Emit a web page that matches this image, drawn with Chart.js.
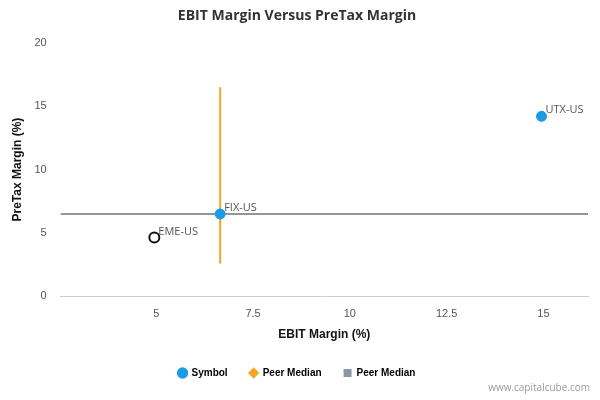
<!DOCTYPE html>
<html>
<head>
<meta charset="utf-8">
<script src="https://cdn.jsdelivr.net/npm/chart.js@4"></script>
<style>
body { margin: 0; background: #fff; font-family: "Open Sans", "DejaVu Sans", sans-serif; }
#wrap { position: relative; width: 600px; height: 400px; }
#credit { position: absolute; right: 10px; bottom: 6px; font-size: 10px; color: #999; }
</style>
</head>
<body>
<div id="wrap">
<canvas id="chart" width="600" height="400"></canvas>
<div id="credit">www.capitalcube.com</div>
</div>
<script>
const symbolNames = ['UTX-US', 'FIX-US'];
const symbolX = [14.95, 6.65];
const symbolY = [14.2, 6.5];
const otherName = 'EME-US';
const otherX = [4.95];
const otherY = [4.65];
const ebitMedian = 6.65;
const ebitMedianRange = [2.6, 16.5];
const pretaxMedian = 6.5;
const xRange = [2.53, 16.15];
const xTicks = [5, 7.5, 10, 12.5, 15];
const yTicks = [0, 5, 10, 15, 20];

const labels = {
  id: 'pointLabels',
  afterDatasetsDraw(chart) {
    const c = chart.ctx;
    c.save();
    c.font = '11px "Open Sans", sans-serif';
    c.fillStyle = '#555';
    const xs = chart.scales.x, ys = chart.scales.y;
    symbolNames.forEach((n, i) => {
      c.fillText(n, xs.getPixelForValue(symbolX[i]) + 4, ys.getPixelForValue(symbolY[i]) - 6);
    });
    c.fillText(otherName, xs.getPixelForValue(otherX[0]) + 4, ys.getPixelForValue(otherY[0]) - 6);
    c.restore();
  }
};

new Chart(document.getElementById('chart'), {
  type: 'scatter',
  data: {
    datasets: [
      {
        label: 'Symbol',
        data: symbolX.map((x, i) => ({ x, y: symbolY[i] })),
        backgroundColor: '#1a9be6', borderColor: '#1a9be6',
        pointRadius: 5, order: 0
      },
      {
        label: 'Peer Median',
        type: 'line',
        data: ebitMedianRange.map(y => ({ x: ebitMedian, y })),
        borderColor: '#f5a623', backgroundColor: '#f5a623',
        borderWidth: 2, pointRadius: 0, pointStyle: 'rectRot', order: 2
      },
      {
        label: 'Peer Median',
        type: 'line',
        data: xRange.map(x => ({ x, y: pretaxMedian })),
        borderColor: '#8f96a3', backgroundColor: '#8f96a3',
        borderWidth: 2, pointRadius: 0, pointStyle: 'rect', order: 3
      },
      {
        label: 'Other',
        data: otherX.map((x, i) => ({ x, y: otherY[i] })),
        backgroundColor: '#fff', borderColor: '#111',
        borderWidth: 2, pointRadius: 5, order: 1
      }
    ]
  },
  options: {
    responsive: false,
    animation: false,
    layout: { padding: { left: 6, right: 12, bottom: 12 } },
    plugins: {
      title: {
        display: true, text: 'EBIT Margin Versus PreTax Margin',
        color: '#333', font: { size: 14, weight: 'bold', family: '"Open Sans", sans-serif' },
        padding: { top: 8, bottom: 18 }
      },
      legend: {
        position: 'bottom',
        labels: {
          usePointStyle: true,
          boxWidth: 8, boxHeight: 8,
          color: '#333',
          font: { size: 10, weight: 'bold' },
          generateLabels(chart) {
            return chart.data.datasets.slice(0, 3).map((d, i) => ({
              text: d.label,
              fillStyle: d.backgroundColor,
              strokeStyle: d.borderColor,
              lineWidth: 0,
              pointStyle: i === 0 ? 'circle' : d.pointStyle,
              datasetIndex: i
            }));
          },
          padding: 22
        }
      },
      tooltip: { enabled: false }
    },
    scales: {
      x: {
        min: xRange[0], max: xRange[1],
        afterBuildTicks: a => { a.ticks = xTicks.map(v => ({ value: v })); },
        grid: { display: false },
        border: { color: '#ccc' },
        ticks: { color: '#555', font: { size: 11 } },
        title: { display: true, text: 'EBIT Margin (%)', color: '#111', font: { size: 12, weight: 'bold' } }
      },
      y: {
        min: 0, max: 20,
        afterBuildTicks: a => { a.ticks = yTicks.map(v => ({ value: v })); },
        grid: { display: false },
        border: { display: false },
        ticks: { color: '#555', font: { size: 11 }, padding: 6 },
        title: { display: true, text: 'PreTax Margin (%)', color: '#111', font: { size: 12, weight: 'bold' } }
      }
    }
  },
  plugins: [labels]
});
</script>
</body>
</html>
